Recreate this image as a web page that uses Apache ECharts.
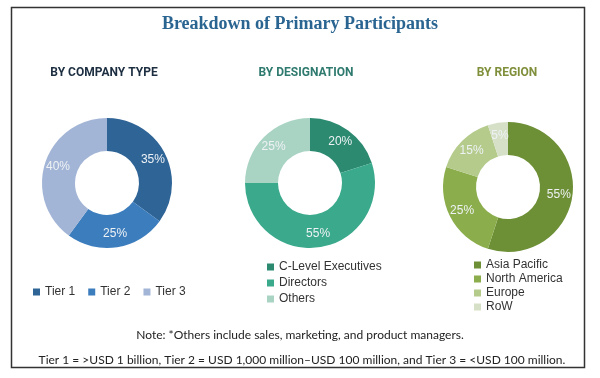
<!DOCTYPE html>
<html><head><meta charset="utf-8">
<script src="https://cdn.jsdelivr.net/npm/echarts@6/dist/echarts.min.js"></script>
<style>html,body{margin:0;padding:0;background:#fff}#c{width:600px;height:378px}</style>
</head><body><div id="c"></div>
<script>
const companyTypes = ['Tier 1', 'Tier 2', 'Tier 3'];
const companyValues = [35, 25, 40];
const designations = ['C-Level Executives', 'Directors', 'Others'];
const designationValues = [20, 55, 25];
const regions = ['Asia Pacific', 'North America', 'Europe', 'RoW'];
const regionValues = [55, 25, 15, 5];

const companyColors = ['#2f6497', '#3c7dbd', '#a3b5d6'];
const designationColors = ['#2b8a70', '#3aa98c', '#a9d3c3'];
const regionColors = ['#6d8f35', '#8bad4b', '#b4cb8c', '#d6e0c6'];

function mk(names, vals, colors) {
  return names.map((n, i) => ({ name: n, value: vals[i], itemStyle: { color: colors[i] } }));
}
const labelStyle = { show: true, position: 'inside', formatter: '{c}%', color: '#eef2f5', fontSize: 12, fontFamily: 'Liberation Sans' };
function pie(center, data) {
  return { type: 'pie', center: center, radius: [32, 65], startAngle: 90, clockwise: true,
    avoidLabelOverlap: false, silent: true, animation: false, label: labelStyle, labelLine: { show: false },
    itemStyle: { borderWidth: 0 }, data: data };
}
const legendText = { fontSize: 12, color: '#333', fontFamily: 'Liberation Sans' };
const subFont = 'bold 12px Roboto';

const chart = echarts.init(document.getElementById('c'));
chart.setOption({
  animation: false,
  backgroundColor: '#fff',
  legend: [
    { data: companyTypes, orient: 'horizontal', left: 28, top: 281, itemWidth: 7, itemHeight: 7, itemGap: 13, icon: 'rect', textStyle: legendText },
    { data: designations, orient: 'vertical', left: 262, top: 256, itemWidth: 7, itemHeight: 7, itemGap: 4, icon: 'rect', textStyle: legendText },
    { data: regions, orient: 'vertical', left: 469, top: 254, itemWidth: 7, itemHeight: 7, itemGap: 2, icon: 'rect', textStyle: legendText }
  ],
  series: [
    pie([107, 183], mk(companyTypes, companyValues, companyColors)),
    pie([310, 183], mk(designations, designationValues, designationColors)),
    pie([508, 187], mk(regions, regionValues, regionColors))
  ],
  graphic: [
    { type: 'rect', shape: { x: 11.5, y: 7.5, width: 573, height: 360 }, style: { fill: 'none', stroke: '#333', lineWidth: 1.5 }, silent: true },
    { type: 'text', x: 300, y: 24, style: { text: 'Breakdown of Primary Participants', fill: '#2a6592', font: 'bold 18px "Liberation Serif"', textAlign: 'center', textVerticalAlign: 'middle' } },
    { type: 'text', x: 104, y: 73, style: { text: 'BY COMPANY TYPE', fill: '#1c2e40', font: subFont, textAlign: 'center', textVerticalAlign: 'middle' } },
    { type: 'text', x: 306, y: 73, style: { text: 'BY DESIGNATION', fill: '#2f7a6e', font: subFont, textAlign: 'center', textVerticalAlign: 'middle' } },
    { type: 'text', x: 507, y: 73, style: { text: 'BY REGION', fill: '#7f8f3a', font: subFont, textAlign: 'center', textVerticalAlign: 'middle' } },
    { type: 'text', x: 300, y: 335, style: { text: 'Note: *Others include sales, marketing, and product managers.', fill: '#222', font: '12px Lato', textAlign: 'center', textVerticalAlign: 'middle' } },
    { type: 'text', x: 302, y: 360, style: { text: 'Tier 1 = >USD 1 billion, Tier 2 = USD 1,000 million\u2013USD 100 million, and Tier 3 = <USD 100 million.', fill: '#222', font: '12px Lato', textAlign: 'center', textVerticalAlign: 'middle' } }
  ]
});
</script></body></html>
